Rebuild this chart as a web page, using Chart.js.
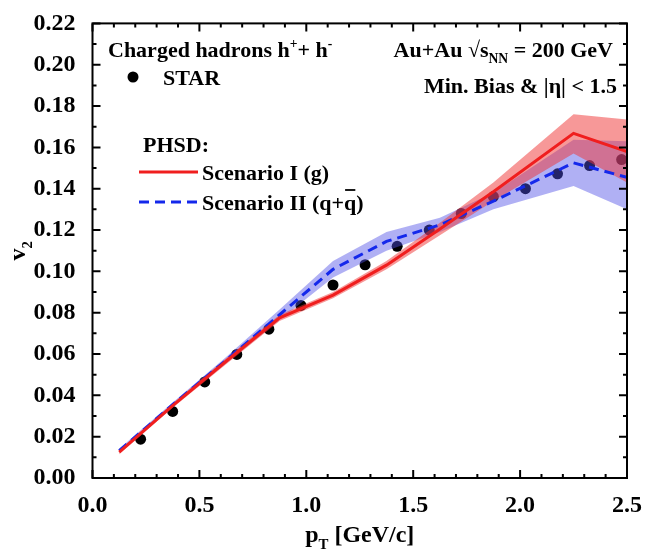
<!DOCTYPE html>
<html>
<head>
<meta charset="utf-8">
<script src="https://cdn.jsdelivr.net/npm/chart.js@4.4.1/dist/chart.umd.min.js"></script>
<style>
  html, body { margin: 0; padding: 0; background: #fff; }
  #wrap { width: 647px; height: 550px; }
</style>
</head>
<body>
<div id="wrap"><canvas id="myChart" width="647" height="550"></canvas></div>
<script>
// datos
const starPt = [0.225, 0.375, 0.525, 0.675, 0.825, 0.975, 1.125, 1.275, 1.425, 1.575, 1.725, 1.875, 2.025, 2.175, 2.325, 2.475];
const starV2 = [0.0188, 0.0322, 0.0465, 0.0598, 0.0720, 0.0835, 0.0934, 0.1032, 0.1121, 0.1200, 0.1280, 0.1362, 0.1400, 0.1472, 0.1512, 0.1541];

const phsdPt = [0.125, 0.375, 0.625, 0.875, 1.125, 1.375, 1.625, 1.875, 2.25, 2.5];
// Scenario I (g)
const gluonV2 = [0.0125, 0.0350, 0.0565, 0.0775, 0.0885, 0.1030, 0.1205, 0.1385, 0.1668, 0.1580];
const gluonHi = [0.0135, 0.0360, 0.0580, 0.0790, 0.0900, 0.1050, 0.1235, 0.1430, 0.1760, 0.1735];
const gluonLo = [0.0115, 0.0340, 0.0550, 0.0760, 0.0870, 0.1010, 0.1175, 0.1340, 0.1570, 0.1430];
// Scenario II (q+qbar)
const quarkV2 = [0.0132, 0.0355, 0.0570, 0.0790, 0.1010, 0.1145, 0.1225, 0.1340, 0.1525, 0.1455];
const quarkHi = [0.0142, 0.0365, 0.0585, 0.0815, 0.1050, 0.1190, 0.1260, 0.1380, 0.1637, 0.1630];
const quarkLo = [0.0122, 0.0345, 0.0555, 0.0765, 0.0970, 0.1100, 0.1190, 0.1300, 0.1413, 0.1300];

const xTicks = [0, 0.5, 1.0, 1.5, 2.0, 2.5];
const yTicks = [0, 0.02, 0.04, 0.06, 0.08, 0.10, 0.12, 0.14, 0.16, 0.18, 0.20, 0.22];

const rojo = "rgb(240, 30, 30)";
const azul = "rgb(20, 40, 235)";
const FUENTE = "'Liberation Serif', 'Times New Roman', serif";

function pares(xs, ys) {
  return xs.map((x, i) => ({ x: x, y: ys[i] }));
}

// dibuja texto con super y subindices; partes = [[texto, modo]], modo 1 = sup, -1 = sub
function textoRico(ctx, partes, x, y, size, align) {
  let total = 0;
  partes.forEach(([t, m]) => {
    ctx.font = "bold " + (m ? size * 0.62 : size) + "px " + FUENTE;
    total += ctx.measureText(t).width;
  });
  let cx = align === "right" ? x - total : align === "center" ? x - total / 2 : x;
  const inicio = cx;
  partes.forEach(([t, m]) => {
    ctx.font = "bold " + (m ? size * 0.62 : size) + "px " + FUENTE;
    const dy = m === 1 ? -size * 0.4 : m === -1 ? size * 0.28 : 0;
    ctx.fillText(t, cx, y + dy);
    cx += ctx.measureText(t).width;
  });
  return { inicio: inicio, fin: cx };
}

// marco, ticks hacia adentro, anotaciones y titulos de ejes
const marcoPlugin = {
  id: "marco",
  afterDraw(chart) {
    const ctx = chart.ctx;
    const a = chart.chartArea;
    const xs = chart.scales.x;
    const ys = chart.scales.y;
    ctx.save();
    ctx.strokeStyle = "#000";
    ctx.lineWidth = 2;
    ctx.strokeRect(a.left, a.top, a.right - a.left, a.bottom - a.top);
    ctx.beginPath();
    for (let i = 0; i <= 25; i++) {
      const px = xs.getPixelForValue(i / 10);
      const len = i % 5 === 0 ? 8 : 4;
      ctx.moveTo(px, a.bottom); ctx.lineTo(px, a.bottom - len);
      ctx.moveTo(px, a.top); ctx.lineTo(px, a.top + len);
    }
    for (let i = 0; i <= 22; i++) {
      const py = ys.getPixelForValue(i / 100);
      const len = i % 2 === 0 ? 8 : 4;
      ctx.moveTo(a.left, py); ctx.lineTo(a.left + len, py);
      ctx.moveTo(a.right, py); ctx.lineTo(a.right - len, py);
    }
    ctx.stroke();

    ctx.fillStyle = "#000";
    ctx.textBaseline = "alphabetic";
    textoRico(ctx, [["Charged hadrons h", 0], ["+", 1], ["+ h", 0], ["-", 1]], 108, 57, 22, "left");
    ctx.beginPath();
    ctx.arc(133, 77, 5.5, 0, Math.PI * 2);
    ctx.fill();
    textoRico(ctx, [["STAR", 0]], 163, 85, 22, "left");
    textoRico(ctx, [["Au+Au \u221As", 0], ["NN", -1], [" = 200 GeV", 0]], 613, 57, 22, "right");
    textoRico(ctx, [["Min. Bias & |\u03B7| < 1.5", 0]], 617, 93, 22, "right");
    textoRico(ctx, [["PHSD:", 0]], 143, 152, 22, "left");

    ctx.lineWidth = 3;
    ctx.strokeStyle = rojo;
    ctx.beginPath();
    ctx.moveTo(139, 172); ctx.lineTo(198, 172);
    ctx.stroke();
    textoRico(ctx, [["Scenario I (g)", 0]], 202, 180, 22, "left");
    ctx.strokeStyle = azul;
    ctx.setLineDash([10, 6]);
    ctx.beginPath();
    ctx.moveTo(139, 202); ctx.lineTo(198, 202);
    ctx.stroke();
    ctx.setLineDash([]);
    const r = textoRico(ctx, [["Scenario II (q+q", 0]], 202, 210, 22, "left");
    ctx.font = "bold 22px " + FUENTE;
    const wq = ctx.measureText("q").width;
    ctx.fillText(")", r.fin, 210);
    ctx.strokeStyle = "#000";
    ctx.lineWidth = 1.8;
    ctx.beginPath();
    ctx.moveTo(r.fin - wq + 1, 190); ctx.lineTo(r.fin - 1, 190);
    ctx.stroke();

    // titulos de ejes
    textoRico(ctx, [["p", 0], ["T", -1], [" [GeV/c]", 0]], (a.left + a.right) / 2, 542, 24, "center");
    ctx.translate(25, (a.top + a.bottom) / 2);
    ctx.rotate(-Math.PI / 2);
    textoRico(ctx, [["v", 0], ["2", -1]], 0, 0, 24, "center");
    ctx.restore();
  }
};

const config = {
  type: "line",
  data: {
    datasets: [
      { label: "Scenario I (g)", data: pares(phsdPt, gluonV2), borderColor: rojo, borderWidth: 3, pointRadius: 0, fill: false, tension: 0 },
      { label: "Scenario II (q+qbar)", data: pares(phsdPt, quarkV2), borderColor: azul, borderWidth: 3, borderDash: [10, 6], pointRadius: 0, fill: false, tension: 0 },
      { label: "g hi", data: pares(phsdPt, gluonHi), borderWidth: 0, borderColor: "rgba(0,0,0,0)", pointRadius: 0, fill: "+1", backgroundColor: "rgba(240, 50, 50, 0.5)", tension: 0 },
      { label: "g lo", data: pares(phsdPt, gluonLo), borderWidth: 0, borderColor: "rgba(0,0,0,0)", pointRadius: 0, fill: false, tension: 0 },
      { label: "q hi", data: pares(phsdPt, quarkHi), borderWidth: 0, borderColor: "rgba(0,0,0,0)", pointRadius: 0, fill: "+1", backgroundColor: "rgba(80, 80, 230, 0.45)", tension: 0 },
      { label: "q lo", data: pares(phsdPt, quarkLo), borderWidth: 0, borderColor: "rgba(0,0,0,0)", pointRadius: 0, fill: false, tension: 0 },
      { label: "STAR", data: pares(starPt, starV2), showLine: false, pointRadius: 5.5, pointBackgroundColor: "#000", pointBorderColor: "#000", pointBorderWidth: 0 }
    ]
  },
  options: {
    responsive: false,
    animation: false,
    layout: { padding: { top: 19, right: 18, left: 0, bottom: 0 } },
    plugins: { legend: { display: false }, tooltip: { enabled: false } },
    scales: {
      x: {
        type: "linear", min: 0, max: 2.5,
        afterBuildTicks: (s) => { s.ticks = xTicks.map((v) => ({ value: v })); },
        afterFit: (s) => { s.height = 72; },
        grid: { display: false }, border: { display: false },
        ticks: { padding: 5, color: "#000", font: { family: FUENTE, size: 24, weight: "bold" }, callback: (v) => Number(v).toFixed(1), maxRotation: 0 }
      },
      y: {
        type: "linear", min: 0, max: 0.22,
        afterBuildTicks: (s) => { s.ticks = yTicks.map((v) => ({ value: v })); },
        afterFit: (s) => { s.width = 92.5; },
        grid: { display: false }, border: { display: false },
        ticks: { padding: 9, color: "#000", font: { family: FUENTE, size: 24, weight: "bold" }, callback: (v) => Number(v).toFixed(2) }
      }
    }
  },
  plugins: [marcoPlugin]
};

const chart = new Chart(document.getElementById("myChart"), config);
</script>
</body>
</html>
